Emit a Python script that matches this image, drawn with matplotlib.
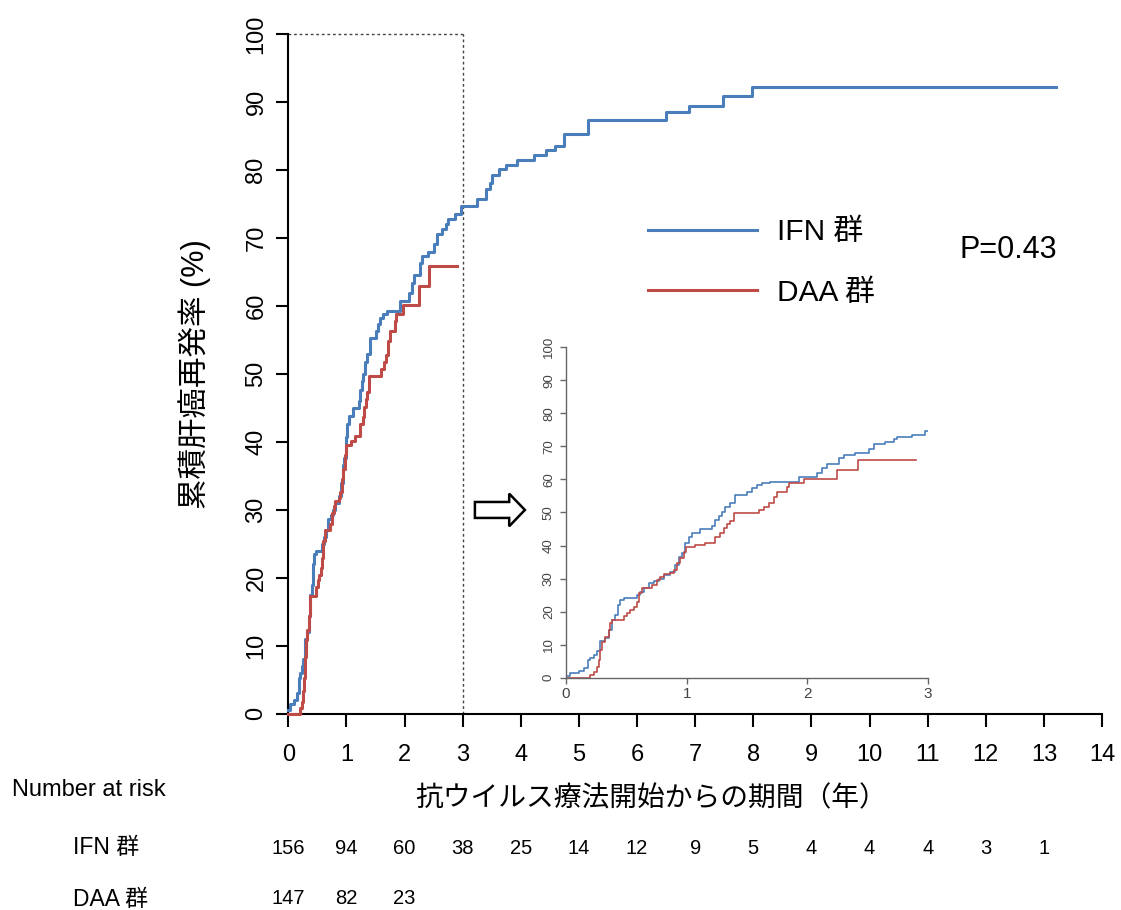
import matplotlib
matplotlib.use("Agg")
import matplotlib.pyplot as plt
from matplotlib.patches import FancyArrow
from matplotlib.transforms import blended_transform_factory

plt.rcParams['font.family'] = ['Liberation Sans', 'Noto Sans CJK JP', 'DejaVu Sans']

# cumulative recurrence (%) step data: event times (years) and level after each step
ifn_time = [0.0, 0.036, 0.105, 0.146, 0.180, 0.202, 0.229, 0.257, 0.285, 0.326,
            0.354, 0.381, 0.409, 0.428, 0.450, 0.478, 0.588, 0.616, 0.644, 0.685,
            0.727, 0.768, 0.809, 0.865, 0.906, 0.934, 0.961, 0.989, 1.017, 1.044,
            1.113, 1.210, 1.238, 1.265, 1.293, 1.320, 1.362, 1.403, 1.500, 1.541,
            1.583, 1.624, 1.693, 1.928, 2.080, 2.122, 2.163, 2.260, 2.301, 2.398,
            2.508, 2.550, 2.646, 2.715, 2.743, 2.867, 2.978, 3.24, 3.40, 3.47,
            3.50, 3.62, 3.74, 3.93, 4.23, 4.43, 4.59, 4.74, 5.16, 6.50,
            6.90, 7.47, 7.97, 13.2]
ifn_pct = [0.6, 1.5, 2.0, 3.0, 5.3, 6.0, 7.0, 8.0, 11.0, 12.0,
           14.4, 17.5, 19.0, 22.0, 23.5, 24.0, 25.0, 26.0, 27.0, 28.7,
           29.2, 30.0, 31.0, 32.0, 34.0, 36.6, 37.6, 40.7, 42.7, 43.9,
           45.0, 46.0, 47.7, 49.0, 50.0, 51.8, 53.0, 55.3, 56.3, 57.3,
           58.3, 58.8, 59.3, 60.8, 61.9, 63.4, 64.6, 66.4, 67.4, 68.0,
           69.1, 70.6, 71.4, 72.1, 72.8, 73.5, 74.7, 75.7, 77.3, 78.1,
           79.3, 80.2, 80.8, 81.5, 82.3, 83.0, 83.6, 85.4, 87.4, 88.5,
           89.5, 90.9, 92.2, 92.2]

daa_time = [0.0, 0.202, 0.229, 0.257, 0.271, 0.285, 0.298, 0.326, 0.354, 0.367,
            0.381, 0.478, 0.506, 0.533, 0.561, 0.588, 0.602, 0.630, 0.713, 0.754,
            0.782, 0.809, 0.865, 0.892, 0.920, 0.948, 0.975, 0.997, 1.072, 1.155,
            1.238, 1.279, 1.307, 1.334, 1.362, 1.390, 1.597, 1.638, 1.680, 1.721,
            1.749, 1.831, 1.845, 1.970, 2.250, 2.420, 2.900]
daa_pct = [0.0, 0.8, 1.8, 3.3, 5.3, 8.4, 10.9, 12.4, 14.4, 16.4,
           17.4, 18.7, 19.7, 20.5, 21.5, 23.0, 25.5, 27.0, 28.0, 29.6,
           30.6, 31.3, 31.8, 32.6, 34.6, 36.1, 38.1, 39.5, 40.1, 40.9,
           42.7, 43.7, 45.2, 46.4, 47.4, 49.7, 50.8, 51.8, 52.8, 54.8,
           56.3, 57.8, 58.8, 60.1, 62.9, 65.9, 65.9]

risk_years = list(range(14))
ifn_risk = [156, 94, 60, 38, 25, 14, 12, 9, 5, 4, 4, 4, 3, 1]
daa_risk = [147, 82, 23]

group_names = ['IFN 群', 'DAA 群']
blue = '#4A7EBB'
red = '#BE4B48'

fig = plt.figure(figsize=(11.21, 9.10), dpi=100)
ax = fig.add_axes([0.2572, 0.2156, 0.7259, 0.7467])

ax.step(ifn_time, ifn_pct, where='post', color=blue, lw=2.2, clip_on=False,
        label=group_names[0], zorder=3)
ax.step(daa_time, daa_pct, where='post', color=red, lw=2.2, clip_on=False,
        label=group_names[1], zorder=3)

# dotted box marking the zoomed window
ax.plot([0, 3], [100, 100], color='#444444', lw=1, ls=(0, (2, 2)), clip_on=False)
ax.plot([3, 3], [0, 100], color='#444444', lw=1, ls=(0, (2, 2)), clip_on=False)

ax.set_xlim(0, 14)
ax.set_ylim(0, 100)
ax.set_xticks(range(0, 15))
ax.set_yticks(range(0, 101, 10))
for s in ['top', 'right']:
    ax.spines[s].set_visible(False)
for s in ['left', 'bottom']:
    ax.spines[s].set_linewidth(1.5)
ax.tick_params(axis='both', length=9, width=1.5, labelsize=17)
ax.tick_params(axis='x', pad=13)
ax.tick_params(axis='y', pad=6)
for lab in ax.get_yticklabels():
    lab.set_rotation(90)
    lab.set_va('center')

ax.text(0.446, -0.125, '抗ウイルス療法開始からの期間（年）', transform=ax.transAxes,
        ha='center', va='center', fontsize=20)
ax.text(-0.1147, 0.5, '累積肝癌再発率 (%)', transform=ax.transAxes, rotation=90,
        ha='center', va='center', fontsize=22)

ax.legend(loc='upper left', bbox_to_anchor=(0.578, 0.7604), bbox_transform=fig.transFigure,
          frameon=False, fontsize=21.5, handlelength=3.65, handletextpad=0.67,
          labelspacing=1.1, borderpad=0, borderaxespad=0)
fig.text(0.856, 0.725, 'P=0.43', fontsize=22, ha='left', va='center')

# open arrow pointing at the inset
ax.add_patch(FancyArrow(3.21, 30.0, 0.86, 0, width=2.35, head_width=4.8,
                        head_length=0.27, length_includes_head=True,
                        facecolor='white', edgecolor='black', lw=1.8, clip_on=False))

# inset: first three years
ins = fig.add_axes([0.5049, 0.2553, 0.3229, 0.3631])
ins.step(ifn_time, ifn_pct, where='post', color=blue, lw=1.2)
ins.step(daa_time, daa_pct, where='post', color=red, lw=1.2)
ins.set_xlim(0, 3)
ins.set_ylim(0, 100)
ins.set_xticks(range(0, 4))
ins.set_yticks(range(0, 101, 10))
for s in ['top', 'right']:
    ins.spines[s].set_visible(False)
for s in ['left', 'bottom']:
    ins.spines[s].set_color('#666666')
    ins.spines[s].set_linewidth(1)
ins.tick_params(axis='both', colors='#666666', labelcolor='#444444', length=4, width=1)
ins.tick_params(axis='x', labelsize=11, pad=3)
ins.tick_params(axis='y', labelsize=9.5, pad=4)
for lab in ins.get_yticklabels():
    lab.set_rotation(90)
    lab.set_va('center')
ins.patch.set_alpha(0)

# number at risk table
tr = blended_transform_factory(ax.transData, fig.transFigure)
fig.text(12 / 1121, 1 - 790 / 910, 'Number at risk', fontsize=17, ha='left', va='center')
fig.text(73 / 1121, 1 - 848 / 910, group_names[0], fontsize=16.5, ha='left', va='center')
fig.text(73 / 1121, 1 - 899 / 910, group_names[1], fontsize=16.5, ha='left', va='center')
for yr, n in zip(risk_years, ifn_risk):
    ax.text(yr, 1 - 849 / 910, str(n), transform=tr, fontsize=14.5, ha='center', va='center')
for yr, n in zip(risk_years, daa_risk):
    ax.text(yr, 1 - 898 / 910, str(n), transform=tr, fontsize=14.5, ha='center', va='center')

fig.savefig('out.png', dpi=100)
